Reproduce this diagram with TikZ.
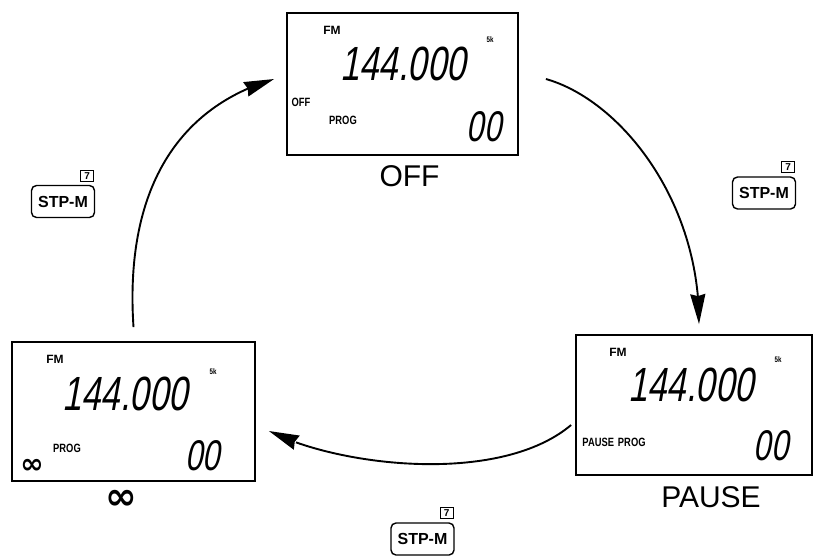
\documentclass[tikz,border=0pt]{standalone}
\usepackage{fontspec}
\setmainfont{Liberation Sans}
\newfontfamily\segfont[FakeStretch=0.72,FakeSlant=0.18]{Liberation Sans}
\newfontfamily\tagfont[FakeStretch=0.78]{Liberation Sans}
\newfontfamily\symfont{DejaVu Sans}
\usetikzlibrary{arrows.meta,bending}

\tikzset{
    lcd/.style={draw, line width=1.8pt, inner sep=0pt},
    fmtag/.style={inner sep=0pt, font=\bfseries\fontsize{12}{12}\selectfont},
    tag/.style={inner sep=0pt, font=\tagfont\bfseries\fontsize{12}{12}\selectfont},
    steptag/.style={inner sep=0pt, font=\tagfont\bfseries\fontsize{8}{8}\selectfont},
    freq/.style={inner sep=0pt, font=\segfont\fontsize{48}{48}\selectfont},
    memno/.style={inner sep=0pt, font=\segfont\fontsize{43}{43}\selectfont},
    caption/.style={inner sep=0pt, font=\fontsize{30}{30}\selectfont},
    key/.style={draw, rounded corners=5pt, line width=1.4pt, inner sep=0pt,
        minimum width=63pt, minimum height=32pt, font=\bfseries\fontsize{16}{16}\selectfont},
    keyno/.style={draw, line width=1.1pt, inner sep=0pt, minimum width=13pt,
        minimum height=11pt, font=\bfseries\fontsize{10}{10}\selectfont},
    cyclearrow/.style={line width=1.9pt, -{Stealth[length=30pt, width=15pt, inset=2pt]}}
}

\begin{document}
\begin{tikzpicture}[x=1pt, y=-1pt]
    \useasboundingbox (0,0) rectangle (816,555);
    % OFF display
    \node[lcd, minimum width=231pt, minimum height=142pt] (offdisp) at (402.5,84) {};
    \node[fmtag] (offfm) at (332,30) {FM};
    \node[steptag] (offstep) at (490,40) {5k};
    \node[freq] (offfreq) at (403,64) {144.000};
    \node[tag] (offtag) at (301,102) {OFF};
    \node[tag] (offprog) at (343,120) {PROG};
    \node[memno] (offmem) at (484,127) {00};
    \node[caption] (offlabel) at (409.5,176) {OFF};
    % PAUSE display
    \node[lcd, minimum width=236pt, minimum height=140pt] (pausedisp) at (694,405) {};
    \node[fmtag] (pausefm) at (618,352) {FM};
    \node[steptag] (pausestep) at (778,360) {5k};
    \node[freq] (pausefreq) at (691,385) {144.000};
    \node[tag] (pauseprog) at (614,442) {PAUSE\hspace{4pt}PROG};
    \node[memno] (pausemem) at (771,446) {00};
    \node[caption] (pauselabel) at (711,497.5) {PAUSE};
    % infinite display
    \node[lcd, minimum width=243pt, minimum height=139pt] (infdisp) at (133.5,411.5) {};
    \node[fmtag] (inffm) at (55,359) {FM};
    \node[steptag] (infstep) at (213,372) {5k};
    \node[freq] (inffreq) at (125,394) {144.000};
    \node[tag] (infprog) at (67,448) {PROG};
    \node[inner sep=0pt, font=\symfont\bfseries\fontsize{28}{28}\selectfont] (inftag) at (32,466) {∞};
    \node[memno] (infmem) at (203,456) {00};
    \node[inner sep=0pt, font=\symfont\bfseries\fontsize{38}{38}\selectfont] (inflabel) at (121,500) {∞};
    % STP-M keys
    \node[key] (keyright) at (764,193) {STP-M};
    \node[keyno, anchor=south east] (keyrightno) at ([xshift=-1pt, yshift=3pt]keyright.north east) {7};
    \node[key] (keyleft) at (63,201.5) {STP-M};
    \node[keyno, anchor=south east] (keyleftno) at ([xshift=-1pt, yshift=3pt]keyleft.north east) {7};
    \node[key] (keybottom) at (422.5,539) {STP-M};
    \node[keyno, anchor=south east] (keybottomno) at ([xshift=-1pt, yshift=3pt]keybottom.north east) {7};
    % cycle
    \draw[cyclearrow] ([xshift=27pt, yshift=5pt]offdisp.east)
        .. controls (620,100) and (700,200) .. ([xshift=5pt, yshift=10pt]pausedisp.north);
    \draw[cyclearrow] ([xshift=-4pt, yshift=-20pt]pausedisp.west)
        .. controls (500,485) and (340,467) .. ([xshift=13pt, yshift=-19.5pt]infdisp.east);
    \draw[cyclearrow] ([yshift=14pt]infdisp.north)
        .. controls (125,200) and (170,110) .. ([xshift=-12pt, yshift=5pt]offdisp.west);
\end{tikzpicture}
\end{document}
